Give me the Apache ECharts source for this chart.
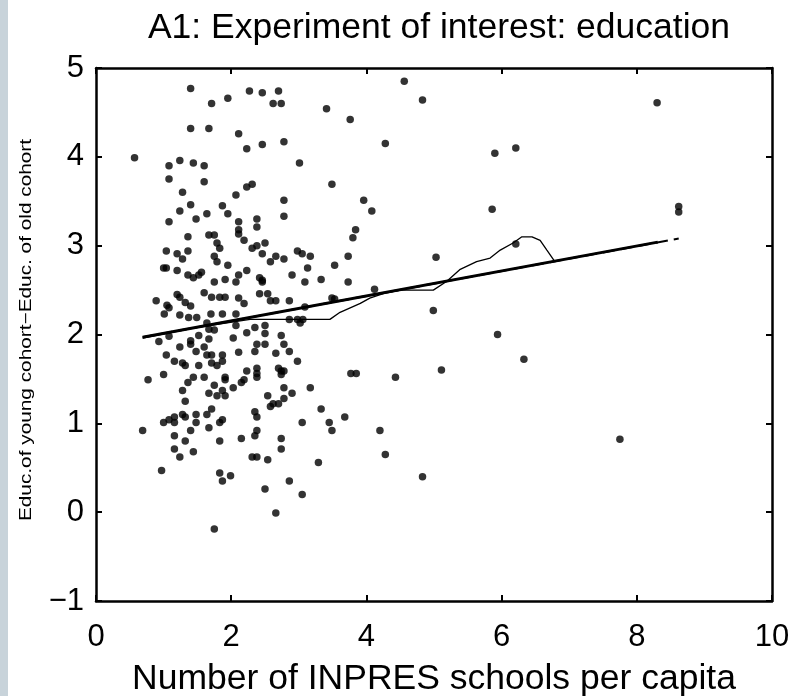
<!DOCTYPE html>
<html>
<head>
<meta charset="utf-8">
<script src="https://cdn.jsdelivr.net/npm/echarts@6/dist/echarts.min.js"></script>
<style>
html,body{margin:0;padding:0;background:#fff;}
#chart{width:795px;height:696px;}
</style>
</head>
<body>
<div id="chart"></div>
<script>
// ---- data ----
const titleText = 'A1: Experiment of interest: education';
const xAxisLabel = 'Number of INPRES schools per capita';
const yAxisLabel = 'Educ.of young cohort\u2212Educ. of old cohort';
const xTicks = [0, 2, 4, 6, 8, 10];
const yTicks = [-1, 0, 1, 2, 3, 4, 5];

// scatter: schools per capita (x) and education difference (y)
const schoolsX = [
  1.40,2.27,2.46,2.70,1.95,1.71,2.62,2.74,3.41,3.76,
  1.40,1.67,2.11,2.23,2.46,2.78,4.28,0.57,1.08,1.24,
  1.44,1.60,3.01,1.08,1.60,2.23,2.31,3.49,1.28,2.07,
  2.78,3.96,1.40,1.87,1.24,1.95,2.78,4.08,1.08,1.48,
  1.64,2.11,2.38,2.38,2.11,2.11,1.67,1.75,1.36,2.19,
  1.79,3.84,3.80,2.31,2.38,2.50,1.83,1.04,1.20,1.36,
  1.28,1.75,1.79,1.95,2.46,2.66,2.58,2.78,2.98,3.05,
  3.17,3.13,3.53,3.73,1.00,1.04,1.20,2.23,1.36,1.44,
  1.52,1.56,1.91,2.11,2.07,2.42,2.46,2.46,1.75,2.90,
  3.09,3.33,3.73,4.12,1.60,1.71,1.83,1.91,2.11,2.19,
  2.42,2.54,2.58,2.66,2.86,1.20,1.24,1.32,1.40,0.89,
  1.05,1.08,1.01,1.24,1.37,1.49,1.64,1.70,1.87,2.07,
  1.67,2.07,2.35,2.50,1.75,1.08,1.52,1.67,2.03,2.23,
  2.50,2.74,2.86,2.98,3.02,3.06,3.09,3.49,3.53,0.93,
  1.24,1.40,1.40,1.60,2.38,2.50,2.78,
  1.04,1.16,1.28,1.32,1.48,1.64,1.71,1.87,1.87,1.71,
  1.79,1.52,2.11,2.35,2.66,2.86,2.98,0.77,1.00,1.44,
  1.36,1.60,1.28,1.32,1.75,1.67,1.79,1.87,1.91,1.91,
  1.91,2.03,2.15,2.19,2.23,2.38,2.38,2.38,2.70,2.74,
  2.78,2.74,2.54,2.58,2.62,2.70,2.78,2.78,2.90,3.17,
  3.77,3.85,4.43,1.71,1.64,1.67,1.28,1.32,1.48,1.48,
  1.16,1.16,1.00,1.08,0.69,1.40,1.16,1.32,1.16,1.24,
  1.44,1.83,1.87,1.83,2.15,2.35,2.38,2.38,2.35,2.31,
  2.38,2.54,2.74,2.74,3.05,3.33,3.45,3.49,3.68,3.29,
  4.20,4.28,0.97,1.83,1.87,1.99,2.50,2.86,3.05,2.66,
  1.75,
  4.56,4.83,8.30,5.90,6.21,5.86,8.62,8.62,6.21,5.03,
  4.99,5.94,5.11,6.33,7.75,4.83
];
const educDiffY = [
  4.77,4.74,4.72,4.74,4.66,4.60,4.60,4.60,4.54,4.42,
  4.32,4.32,4.26,4.09,4.14,4.17,4.15,3.99,3.90,3.96,
  3.93,3.90,3.93,3.75,3.72,3.66,3.69,3.69,3.60,3.57,
  3.51,3.51,3.46,3.45,3.39,3.36,3.33,3.39,3.27,3.30,
  3.36,3.27,3.30,3.21,3.18,3.13,3.12,3.12,3.10,3.06,
  3.03,3.18,3.09,2.97,3.00,3.03,2.97,2.94,2.91,2.94,
  2.85,2.88,2.82,2.78,2.91,2.88,2.82,2.85,2.94,2.91,
  2.88,2.75,2.78,2.88,2.75,2.75,2.72,2.72,2.67,2.64,
  2.67,2.70,2.62,2.67,2.59,2.64,2.61,2.59,2.59,2.67,
  2.59,2.62,2.59,2.51,2.47,2.42,2.42,2.42,2.41,2.35,
  2.46,2.46,2.38,2.38,2.38,2.45,2.42,2.36,2.32,2.38,
  2.33,2.30,2.23,2.22,2.19,2.19,2.13,2.23,2.23,2.23,
  2.06,2.10,2.08,2.10,2.05,1.98,1.99,1.95,1.96,2.02,
  2.01,1.99,2.17,2.17,2.13,2.17,2.31,2.41,2.40,1.92,
  1.86,1.93,1.89,1.86,1.89,1.89,1.89,
  1.77,1.70,1.68,1.65,1.81,1.77,1.77,1.77,1.70,1.68,
  1.65,1.65,1.80,1.81,1.79,1.81,1.70,1.49,1.55,1.52,
  1.46,1.52,1.37,1.25,1.43,1.34,1.31,1.37,1.52,1.49,
  1.31,1.40,1.46,1.49,1.59,1.62,1.56,1.52,1.62,1.59,
  1.59,1.55,1.31,1.19,1.22,1.22,1.28,1.40,1.34,1.40,
  1.56,1.56,1.52,1.16,1.10,0.95,1.10,1.07,1.10,1.01,
  1.07,1.01,1.01,1.04,0.92,0.92,0.86,0.80,0.71,0.62,
  0.68,1.01,1.04,0.80,0.83,1.13,1.07,0.92,0.86,0.62,
  0.62,0.59,0.83,0.71,1.01,1.16,1.01,0.92,1.07,0.56,
  0.92,0.65,0.47,0.44,0.35,0.41,0.26,0.35,0.20,-0.01,
  -0.19,
  4.85,4.64,4.61,4.04,4.10,3.41,3.44,3.38,3.02,2.87,
  2.27,2.00,1.60,1.72,0.82,0.40
];

// linear fit (solid) and its dashed twin
const fitX = [0.69, 8.31];
const fitY = [1.97, 3.04];
const fitDashX = [0.69, 8.62];
const fitDashY = [1.97, 3.08];

// nonparametric (thin) curve
const smoothX = [0.69, 1.50, 2.28, 3.46, 3.61, 3.76, 3.91, 4.05, 4.25, 4.50, 4.99, 5.19, 5.38, 5.63, 5.83, 5.98, 6.17, 6.30, 6.45, 6.57, 6.67, 6.78];
const smoothY = [1.96, 2.08, 2.17, 2.17, 2.25, 2.30, 2.35, 2.41, 2.46, 2.50, 2.50, 2.60, 2.73, 2.82, 2.86, 2.95, 3.03, 3.10, 3.10, 3.06, 2.95, 2.83];

// ---- build ----
const zip = (a, b) => a.map((v, i) => [v, b[i]]);
const FONT = '"Liberation Sans", Arial, Helvetica, sans-serif';
const fmtNum = v => String(v).replace('-', '\u2212');

const chart = echarts.init(document.getElementById('chart'), null, {renderer: 'canvas'});

const axisLineStyle = {show: true, onZero: false, lineStyle: {color: '#000', width: 2.5}};
const tickStyle = {show: true, inside: true, length: 6, lineStyle: {color: '#000', width: 2}};

chart.setOption({
  animation: false,
  backgroundColor: '#fff',
  title: {
    text: titleText,
    left: 434,
    top: 5,
    textAlign: 'center',
    textStyle: {fontFamily: FONT, fontSize: 35.5, fontWeight: 'normal', color: '#000'}
  },
  graphic: [
    {type: 'rect', left: 0, top: 0, shape: {width: 8, height: 696}, style: {fill: '#c8d3da'}, silent: true},
    {
      type: 'text', x: 27, y: 330, rotation: Math.PI / 2, scaleX: 1.3, silent: true,
      style: {text: yAxisLabel, font: '16px "Liberation Sans", Arial, sans-serif', fill: '#000',
              textAlign: 'center', textVerticalAlign: 'middle'}
    }
  ],
  grid: {left: 96, right: 23, top: 68, bottom: 95, containLabel: false, outerBoundsMode: 'none'},
  xAxis: [
    {
      type: 'value', min: xTicks[0], max: xTicks[xTicks.length - 1], interval: 2, position: 'bottom',
      axisLine: axisLineStyle, axisTick: tickStyle, splitLine: {show: false},
      axisLabel: {fontFamily: FONT, fontSize: 31, color: '#000', margin: 21, formatter: fmtNum},
      name: xAxisLabel, nameLocation: 'middle', nameGap: 60,
      nameTextStyle: {fontFamily: FONT, fontSize: 35.5, color: '#000'}
    },
    {
      type: 'value', min: xTicks[0], max: xTicks[xTicks.length - 1], interval: 2, position: 'top',
      axisLine: axisLineStyle, axisTick: tickStyle, splitLine: {show: false}, axisLabel: {show: false}
    }
  ],
  yAxis: [
    {
      type: 'value', min: yTicks[0], max: yTicks[yTicks.length - 1], interval: 1, position: 'left',
      axisLine: axisLineStyle, axisTick: tickStyle, splitLine: {show: false},
      axisLabel: {fontFamily: FONT, fontSize: 31, color: '#000', margin: 12, formatter: fmtNum}
    },
    {
      type: 'value', min: yTicks[0], max: yTicks[yTicks.length - 1], interval: 1, position: 'right',
      axisLine: axisLineStyle, axisTick: tickStyle, splitLine: {show: false}, axisLabel: {show: false}
    }
  ],
  series: [
    {
      type: 'scatter', xAxisIndex: 0, yAxisIndex: 0, data: zip(schoolsX, educDiffY),
      symbol: 'circle', symbolSize: 7.5, itemStyle: {color: '#000'}, silent: true
    },
    {
      type: 'line', xAxisIndex: 0, yAxisIndex: 0, data: zip(fitX, fitY), showSymbol: false, symbol: 'none',
      lineStyle: {color: '#000', width: 3}, silent: true
    },
    {
      type: 'line', xAxisIndex: 0, yAxisIndex: 0, data: zip(fitDashX, fitDashY), showSymbol: false, symbol: 'none',
      lineStyle: {color: '#000', width: 2, type: [12, 6]}, silent: true
    },
    {
      type: 'line', xAxisIndex: 0, yAxisIndex: 0, data: zip(smoothX, smoothY), showSymbol: false, symbol: 'none',
      lineStyle: {color: '#000', width: 1.3}, silent: true
    }
  ]
});
</script>
</body>
</html>
